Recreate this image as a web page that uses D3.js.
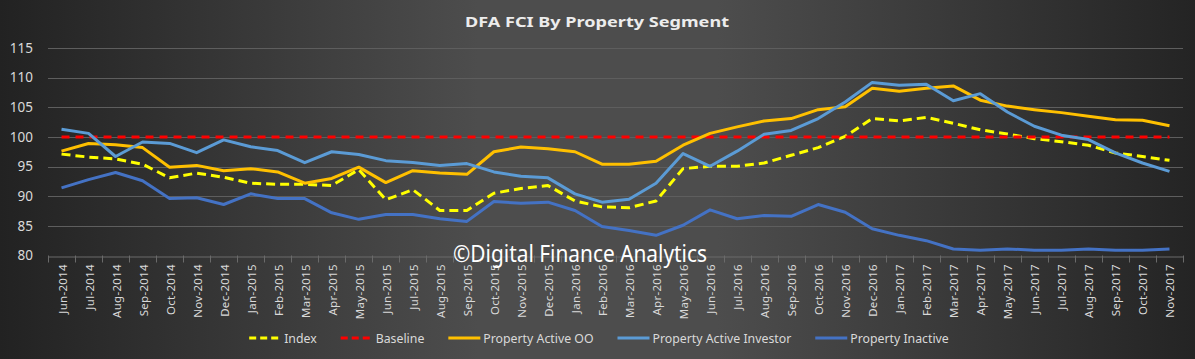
<!DOCTYPE html>
<html>
<head>
<meta charset="utf-8">
<script src="https://cdn.jsdelivr.net/npm/d3@7"></script>
<style>
  body { margin: 0; background: #333; }
  svg { display: block; font-family: "Noto Sans", "Open Sans", sans-serif; }
</style>
</head>
<body>
<script>
var width = 1195
var height = 359

var months = ["Jun-2014","Jul-2014","Aug-2014","Sep-2014","Oct-2014","Nov-2014","Dec-2014",
  "Jan-2015","Feb-2015","Mar-2015","Apr-2015","May-2015","Jun-2015","Jul-2015","Aug-2015","Sep-2015","Oct-2015","Nov-2015","Dec-2015",
  "Jan-2016","Feb-2016","Mar-2016","Apr-2016","May-2016","Jun-2016","Jul-2016","Aug-2016","Sep-2016","Oct-2016","Nov-2016","Dec-2016",
  "Jan-2017","Feb-2017","Mar-2017","Apr-2017","May-2017","Jun-2017","Jul-2017","Aug-2017","Sep-2017","Oct-2017","Nov-2017"]

var indexVals = [97.1,96.6,96.3,95.4,93.1,93.9,93.2,92.2,92.0,92.0,91.8,94.5,89.4,91.1,87.6,87.6,90.5,91.3,91.8,
  89.2,88.2,88.05,89.2,94.65,95.05,95.05,95.6,96.9,98.2,100.1,103.1,102.7,103.3,102.3,101.2,100.5,99.7,99.2,98.6,97.3,96.7,96.05]

var baselineVals = [100,100,100,100,100,100,100,100,100,100,100,100,100,100,100,100,100,100,100,100,100,
  100,100,100,100,100,100,100,100,100,100,100,100,100,100,100,100,100,100,100,100,100]

var activeOOVals = [97.6,98.9,98.7,98.2,94.9,95.2,94.3,94.65,94.1,92.2,93.0,94.9,92.3,94.3,93.9,93.7,97.5,98.3,98.0,
  97.5,95.4,95.4,95.9,98.6,100.6,101.7,102.7,103.1,104.6,105.1,108.2,107.7,108.2,108.6,106.2,105.2,104.6,104.1,103.5,102.9,102.8,101.9]

var activeInvVals = [101.3,100.6,96.7,99.15,98.9,97.35,99.5,98.35,97.7,95.65,97.5,97.05,96.0,95.7,95.2,95.5,94.1,93.35,93.1,
  90.4,89.0,89.5,92.2,97.2,95.05,97.6,100.45,101.1,103.1,105.9,109.2,108.7,108.9,106.1,107.3,104.2,101.8,100.3,99.55,97.3,95.6,94.2]

var inactiveVals = [91.4,92.8,94.0,92.6,89.6,89.75,88.6,90.4,89.6,89.6,87.2,86.1,86.9,86.9,86.2,85.75,89.1,88.8,89.0,
  87.6,84.9,84.2,83.4,85.1,87.7,86.2,86.75,86.6,88.6,87.3,84.5,83.4,82.5,81.1,80.9,81.1,80.9,80.9,81.1,80.9,80.9,81.1]

var yTicks = [80,85,90,95,100,105,110,115]

var series = [
  {name: "Index", values: indexVals, color: "#FFFF00", dash: "9,5"},
  {name: "Baseline", values: baselineVals, color: "#FF0000", dash: "8,6"},
  {name: "Property Active OO", values: activeOOVals, color: "#FFC000", dash: null},
  {name: "Property Active Investor", values: activeInvVals, color: "#5B9BD5", dash: null},
  {name: "Property Inactive", values: inactiveVals, color: "#4472C4", dash: null}
]

var svg = d3.select("body")
.append("svg")
.attr("width", width)
.attr("height", height)

var defs = svg.append("defs")

var bg = defs.append("linearGradient")
  .attr("id", "bgFill")
  .attr("x1", 0).attr("y1", 0)
  .attr("x2", 1).attr("y2", 0)
bg.append("stop").attr("offset", "0%").attr("stop-color", "#222222")
bg.append("stop").attr("offset", "40%").attr("stop-color", "#4d4d4d")
bg.append("stop").attr("offset", "60%").attr("stop-color", "#4d4d4d")
bg.append("stop").attr("offset", "100%").attr("stop-color", "#242424")

svg.append("rect")
  .attr("width", width)
  .attr("height", height)
  .attr("fill", "url(#bgFill)")

var x = d3.scaleBand()
  .domain(months)
  .range([48, 1183])

var y = d3.scaleLinear()
  .domain([80, 115])
  .range([255.5, 48])

function cx(d) { return x(d) + x.bandwidth() / 2 }

//grid lines
svg.append("g")
  .selectAll("line")
  .data(yTicks.slice(1))
  .enter()
  .append("line")
  .attr("x1", 48)
  .attr("x2", 1183)
  .attr("y1", function(d) { return Math.round(y(d)) + 0.5 })
  .attr("y2", function(d) { return Math.round(y(d)) + 0.5 })
  .attr("stroke", "#5e5e5e")
  .attr("stroke-width", 1)

//y labels
var yAxis = svg.append("g")
  .attr("transform", "translate(33,0)")
  .call(d3.axisLeft(y).tickValues(yTicks).tickSize(0).tickPadding(0))
yAxis.select(".domain").remove()
yAxis.selectAll("text")
  .attr("fill", "#d9d9d9")
  .style("font-size", "13.5px")
  .style("font-family", "'Noto Sans', sans-serif")

//x axis with ticks at category edges
var xAxis = svg.append("g")
  .attr("transform", "translate(0," + (Math.round(y(80)) + 0.5) + ")")
  .call(d3.axisBottom(x).tickSize(0).tickFormat(""))
xAxis.select(".domain").attr("stroke", "#6a6a6a")

svg.append("g")
  .selectAll("line")
  .data(months.concat(["end"]))
  .enter()
  .append("line")
  .attr("x1", function(d, i) { return Math.round(48 + i * x.step()) + 0.5 })
  .attr("x2", function(d, i) { return Math.round(48 + i * x.step()) + 0.5 })
  .attr("y1", y(80))
  .attr("y2", y(80) + 7)
  .attr("stroke", "#6a6a6a")

svg.append("g")
  .selectAll("text")
  .data(months)
  .enter()
  .append("text")
  .attr("transform", function(d) { return "translate(" + (cx(d) + 5) + "," + 264 + ") rotate(-90)" })
  .attr("text-anchor", "end")
  .attr("fill", "#d9d9d9")
  .style("font-size", "11.5px")
  .style("letter-spacing", "0.3px")
  .text(function(d) { return d })

//watermark
svg.append("text")
  .attr("x", 453)
  .attr("y", 262)
  .attr("fill", "#ffffff")
  .attr("textLength", 254)
  .attr("lengthAdjust", "spacingAndGlyphs")
  .style("font-size", "23px")
  .text("\u00A9Digital Finance Analytics")

//lines
var line = d3.line()
  .x(function(d, i) { return cx(months[i]) })
  .y(function(d) { return y(d) })

svg.append("g")
  .selectAll("path")
  .data(series)
  .enter()
  .append("path")
  .attr("d", function(s) { return line(s.values) })
  .attr("fill", "none")
  .attr("stroke", function(s) { return s.color })
  .attr("stroke-width", 3)
  .attr("stroke-linejoin", "round")
  .attr("stroke-dasharray", function(s) { return s.dash })

//title
svg.append("text")
  .attr("x", 597)
  .attr("y", 27)
  .attr("text-anchor", "middle")
  .attr("fill", "#ececec")
  .attr("textLength", 264)
  .attr("lengthAdjust", "spacingAndGlyphs")
  .style("font-size", "15px")
  .style("font-weight", "bold")
  .text("DFA FCI By Property Segment")

//legend, laid out from measured text widths and centered
var legend = svg.append("g")
var items = legend.selectAll("g")
  .data(series)
  .enter()
  .append("g")

items.append("line")
  .attr("x1", 0)
  .attr("x2", 32)
  .attr("y1", 338)
  .attr("y2", 338)
  .attr("stroke", function(s) { return s.color })
  .attr("stroke-width", 3)
  .attr("stroke-dasharray", function(s) { return s.dash ? "7,4" : null })

items.append("text")
  .attr("x", 35)
  .attr("y", 342.5)
  .attr("fill", "#d9d9d9")
  .style("font-size", "12.3px")
  .text(function(s) { return s.name })

var offsets = []
var total = 0
items.each(function(s, i) {
  var w = 35 + d3.select(this).select("text").node().getComputedTextLength()
  offsets.push(total)
  total += w + (i < series.length - 1 ? 24 : 0)
})
var start = 599 - total / 2
items.attr("transform", function(s, i) { return "translate(" + (start + offsets[i]) + ",0)" })
</script>
</body>
</html>
